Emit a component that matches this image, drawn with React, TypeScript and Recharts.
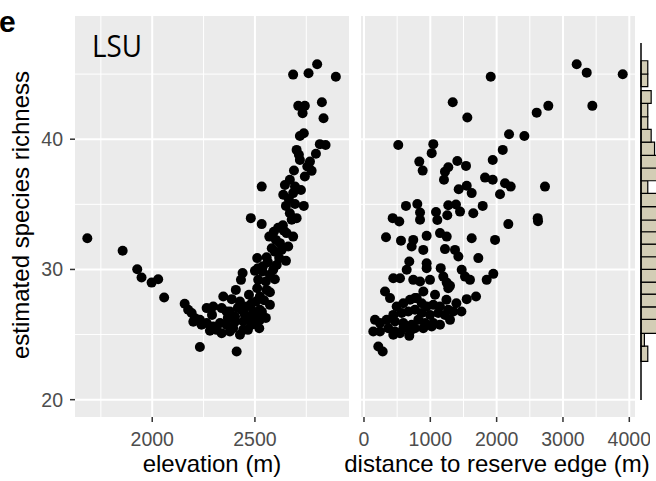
import React from "react";
import {
  ScatterChart,
  Scatter,
  ComposedChart,
  XAxis,
  YAxis,
  CartesianGrid,
  ReferenceLine,
  ReferenceArea,
} from "recharts";

// richness against elevation
const elevation = [
  2686, 2761, 2803, 2894, 2711, 2743, 2732, 2826, 2834, 2719, 2738, 2703, 2816, 2844, 2797, 2719,
  2768, 2755, 2776, 2743, 2533, 2670, 2646, 2695, 2638, 2686, 2651, 2695, 2738, 2480, 2533, 2670,
  2703, 2679, 2570, 2602, 2654, 2686, 2622, 2662, 2597, 2630, 2511, 2557, 2651, 2618, 2606, 2440,
  2432, 2500, 2537, 2589, 2573, 2597, 2516, 2553, 2511, 2557, 2524, 2505, 2573, 2346, 2387, 2427,
  2158, 2192, 2175, 2265, 2297, 2338, 2362, 2232, 2208, 2265, 2240, 2378, 2403, 2435, 2460, 2484,
  2492, 2451, 2476, 2516, 2524, 2443, 2484, 2524, 2330, 2362, 2394, 2313, 2338, 2378, 2427, 2443,
  2521, 2232, 2411, 2297, 1684, 1856, 1927, 1948, 1997, 2029, 2058, 2613, 2641, 2582, 2563, 2539,
  2515, 2544, 2573, 2471, 2407, 2534, 2466, 2553, 2368, 2291, 2403, 2505, 2281, 2200, 2417, 2714,
  2690, 2724, 2665, 2636, 2592,
];
const elevationRichness = [
  44.96, 45.07, 45.76, 44.8, 42.56, 42.56, 42.0, 42.84, 41.61, 40.25, 40.46, 39.18, 39.62, 39.56,
  38.89, 38.41, 38.28, 37.9, 37.57, 37.13, 36.36, 36.88, 36.49, 36.36, 35.73, 35.86, 34.88, 35.03,
  34.88, 33.94, 33.48, 34.32, 33.94, 33.81, 32.52, 32.27, 32.79, 32.52, 32.02, 31.76, 31.37, 31.5,
  30.87, 30.94, 30.66, 30.87, 30.35, 29.72, 29.2, 29.89, 29.84, 29.97, 29.59, 29.25, 29.2, 29.07,
  28.56, 28.43, 27.92, 27.54, 27.28, 27.92, 27.72, 27.54, 27.36, 26.65, 26.9, 27.03, 27.15, 27.03,
  26.77, 26.13, 26.26, 25.88, 25.75, 26.77, 26.38, 26.9, 27.15, 27.41, 26.77, 26.51, 26.26, 26.51,
  26.9, 26.0, 25.75, 26.13, 25.88, 25.75, 25.49, 25.36, 25.11, 25.23, 24.98, 25.36, 25.49, 24.04,
  23.7, 25.62, 32.4, 31.43, 30.02, 29.38, 28.99, 29.25, 27.84, 33.2, 32.97, 31.63, 30.56, 30.25,
  30.1, 27.64, 28.25, 28.05, 28.43, 26.74, 25.36, 26.28, 26.28, 26.51, 25.98, 25.98, 25.29, 25.98,
  27.05, 38.8, 37.6, 36.1, 35.4, 33.4, 32.9,
];

// richness against distance to the reserve edge
const distance = [
  3207, 3358, 3901, 1911, 1338, 1558, 2604, 2779, 3443, 2187, 2418, 517, 1045, 1021, 2092, 834,
  885, 1407, 1538, 1941, 1271, 1221, 1206, 1825, 1941, 2126, 2212, 2729, 1428, 1549, 1624, 2051,
  633, 804, 1271, 1387, 1790, 845, 1448, 1648, 2176, 433, 532, 332, 558, 845, 1086, 1106, 1256,
  743, 945, 719, 894, 1146, 1247, 1624, 1976, 1221, 1372, 1423, 1724, 683, 644, 945, 945, 1157,
  1196, 1473, 1523, 1598, 1850, 1950, 442, 543, 743, 845, 995, 1271, 317, 392, 769, 895, 1071,
  1549, 1689, 1243, 1393, 1469, 493, 593, 694, 795, 870, 946, 1045, 1146, 1271, 442, 569, 668,
  769, 870, 995, 1120, 1221, 1347, 166, 241, 342, 467, 593, 719, 819, 920, 1045, 1146, 1297, 140,
  241, 366, 467, 593, 694, 769, 894, 1021, 442, 683, 543, 216, 282, 2619, 2624, 1247, 1297,
];
const distanceRichness = [
  45.76, 45.11, 44.99, 44.8, 42.84, 41.66, 42.04, 42.56, 42.56, 40.38, 40.25, 39.56, 39.62, 38.93,
  39.18, 38.28, 37.59, 38.33, 37.95, 38.41, 37.85, 37.51, 36.88, 37.05, 36.88, 36.62, 36.36, 36.36,
  36.16, 36.42, 35.86, 35.78, 34.88, 35.03, 34.93, 34.98, 34.88, 34.37, 34.44, 34.32, 33.48, 33.94,
  33.68, 32.47, 32.21, 33.81, 34.41, 33.8, 34.16, 32.27, 32.58, 31.76, 31.5, 32.79, 32.52, 32.4,
  32.27, 31.56, 31.5, 30.99, 30.87, 30.61, 29.97, 30.48, 30.1, 30.1, 29.45, 29.97, 29.45, 29.2,
  29.2, 29.66, 29.33, 29.33, 29.2, 29.07, 29.2, 28.56, 28.3, 27.8, 27.8, 28.3, 28.05, 27.72, 27.92,
  27.67, 27.41, 26.77, 27.15, 27.41, 27.67, 27.8, 27.41, 27.15, 27.28, 27.15, 26.9, 26.51, 26.65,
  26.77, 26.9, 26.65, 26.51, 26.65, 26.51, 26.77, 26.13, 25.88, 26.13, 26.0, 25.88, 25.75, 26.13,
  25.88, 25.88, 25.75, 26.13, 25.23, 25.23, 25.49, 25.23, 25.49, 25.23, 25.49, 25.49, 25.62, 24.98,
  24.9, 25.11, 24.08, 23.7, 33.94, 33.7, 28.99, 28.74,
];

// marginal histogram of richness
const binLow = [
  22.96, 24.14, 25.11, 26.18, 27.15, 28.13, 29.05, 30.02, 30.99, 31.96, 32.91, 33.81, 34.83, 35.86,
  36.82, 37.8, 38.77, 39.79, 40.77, 41.73, 42.76, 44.04, 45.01,
];
const binHigh = [
  24.14, 25.11, 26.18, 27.15, 28.13, 29.05, 30.02, 30.99, 31.96, 32.91, 33.81, 34.83, 35.86, 36.82,
  37.8, 38.77, 39.79, 40.77, 41.73, 42.76, 43.73, 45.01, 46.03,
];
const binCount = [2, 1, 20, 24, 19, 12, 14, 10, 9, 9, 7, 8, 8, 2, 5, 5, 4, 3, 2, 2, 3, 2, 2];

const richnessTicks = [20, 30, 40];
const richnessMinor = [25, 35, 45];
const elevationTicks = [2000, 2500];
const elevationMinor = [1750, 2250, 2750];
const distanceTicks = [0, 1000, 2000, 3000, 4000];
const distanceMinor = [500, 1500, 2500, 3500];

const RICH_DOMAIN: [number, number] = [18.67, 49.46];
const HIST_DOMAIN: [number, number] = [20, 47.39];
const ELEV_DOMAIN: [number, number] = [1624, 2958];
const DIST_DOMAIN: [number, number] = [-45, 4086];

const FONT = "'Liberation Sans', Arial, Helvetica, sans-serif";
const PANEL = "#EBEBEB";
const tickStyle = { fill: "#4D4D4D", fontSize: 19.5, fontFamily: FONT };
const tickLineStyle = { stroke: "#333333", strokeWidth: 1.5 };

const elevData = elevation.map((x, i) => ({ x, y: elevationRichness[i] }));
const distData = distance.map((x, i) => ({ x, y: distanceRichness[i] }));
const bins = binLow.map((lo, i) => ({ lo, hi: binHigh[i], count: binCount[i] }));

const Dot = (props: any) => <circle cx={props.cx} cy={props.cy} r={5} fill="#000" />;

function gridLines(major: number[], minor: number[], axis: "x" | "y") {
  return [
    ...minor.map((v) => (
      <ReferenceLine key={`${axis}m${v}`} {...{ [axis]: v }} stroke="#fff" strokeWidth={1} />
    )),
    ...major.map((v) => (
      <ReferenceLine key={`${axis}M${v}`} {...{ [axis]: v }} stroke="#fff" strokeWidth={2} />
    )),
  ];
}

export default function App() {
  return (
    <div
      style={{
        position: "absolute",
        left: 0,
        top: 0,
        width: 656,
        height: 481,
        background: "#fff",
        overflow: "hidden",
      }}
    >
      <div style={{ position: "absolute", left: 0, top: 0 }}>
        <ScatterChart width={360} height={481} margin={{ top: 16, right: 11, bottom: 0, left: 0 }}>
          <CartesianGrid fill={PANEL} stroke="none" horizontal={false} vertical={false} />
          {gridLines(elevationTicks, elevationMinor, "x")}
          {gridLines(richnessTicks, richnessMinor, "y")}
          <XAxis
            type="number"
            dataKey="x"
            domain={ELEV_DOMAIN}
            allowDataOverflow
            ticks={elevationTicks}
            height={64}
            axisLine={false}
            tickLine={tickLineStyle}
            tickSize={5}
            tickMargin={10}
            tick={tickStyle}
          />
          <YAxis
            type="number"
            dataKey="y"
            domain={RICH_DOMAIN}
            allowDataOverflow
            ticks={richnessTicks}
            width={75}
            axisLine={false}
            tickLine={tickLineStyle}
            tickSize={5}
            tickMargin={7}
            tick={tickStyle}
          />
          <Scatter data={elevData} shape={Dot} isAnimationActive={false} />
        </ScatterChart>
      </div>

      <div style={{ position: "absolute", left: 350, top: 0 }}>
        <ScatterChart width={300} height={481} margin={{ top: 16, right: 15, bottom: 0, left: 11 }}>
          <CartesianGrid fill={PANEL} stroke="none" horizontal={false} vertical={false} />
          {gridLines(distanceTicks, distanceMinor, "x")}
          {gridLines(richnessTicks, richnessMinor, "y")}
          <XAxis
            type="number"
            dataKey="x"
            domain={DIST_DOMAIN}
            allowDataOverflow
            ticks={distanceTicks}
            height={64}
            axisLine={false}
            tickLine={tickLineStyle}
            tickSize={5}
            tickMargin={10}
            tick={tickStyle}
          />
          <YAxis type="number" dataKey="y" domain={RICH_DOMAIN} allowDataOverflow hide />
          <Scatter data={distData} shape={Dot} isAnimationActive={false} />
        </ScatterChart>
      </div>

      <div
        style={{ position: "absolute", left: 636, top: 0, width: 20, height: 481, overflow: "hidden" }}
      >
        <ComposedChart
          width={132}
          height={481}
          data={bins}
          margin={{ top: 43, right: 5, bottom: 81, left: 5 }}
        >
          <XAxis type="number" dataKey="count" domain={[0, 36]} allowDataOverflow hide />
          <YAxis type="number" dataKey="lo" domain={HIST_DOMAIN} allowDataOverflow hide />
          {bins.map((b, i) => (
            <ReferenceArea
              key={i}
              x1={0}
              x2={b.count}
              y1={b.lo}
              y2={b.hi}
              fill="#D3CDB5"
              fillOpacity={1}
              stroke="#000"
              strokeWidth={1.2}
            />
          ))}
          {/* count axis baseline */}
          <ReferenceLine x={0} stroke="#000" strokeWidth={1.5} />
        </ComposedChart>
      </div>

      <svg
        width={656}
        height={481}
        style={{ position: "absolute", left: 0, top: 0, pointerEvents: "none" }}
      >
        <text x={-1} y={32} fontFamily={FONT} fontWeight="bold" fontSize={30} fill="#000">
          e
        </text>
        <text
          x={92}
          y={57}
          fontFamily="'Liberation Sans Narrow', 'Open Sans', sans-serif"
          fontSize={31}
          textLength={50}
          lengthAdjust="spacingAndGlyphs"
          fill="#000"
        >
          LSU
        </text>
        <text
          transform="translate(29,215) rotate(-90)"
          textAnchor="middle"
          fontFamily={FONT}
          fontSize={24}
          fill="#000"
        >
          estimated species richness
        </text>
        <text x={212} y={472} textAnchor="middle" fontFamily={FONT} fontSize={24} fill="#000">
          elevation (m)
        </text>
        <text x={497} y={472} textAnchor="middle" fontFamily={FONT} fontSize={24} fill="#000">
          distance to reserve edge (m)
        </text>
      </svg>
    </div>
  );
}
